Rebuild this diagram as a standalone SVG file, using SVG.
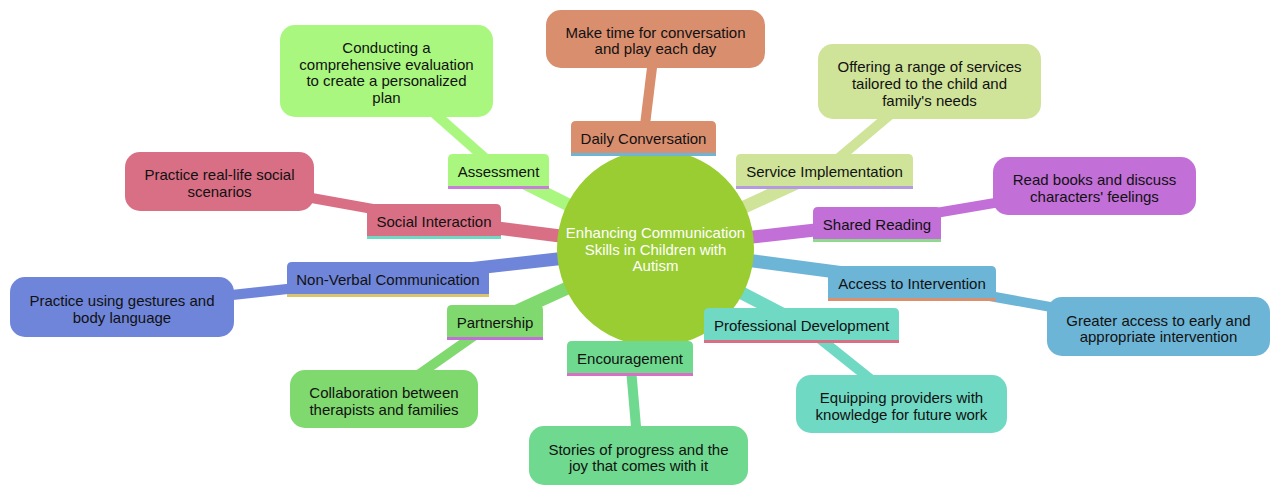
<svg xmlns="http://www.w3.org/2000/svg" width="1280" height="496" viewBox="0 0 1280 496">
<style>
text{font-family:"Liberation Sans",Arial,sans-serif;font-size:15px;fill:#111;text-anchor:middle}
.root text{fill:#fff}
.e1{stroke-width:13;fill:none;stroke-linecap:butt}
.e2{stroke-width:10;fill:none;stroke-linecap:butt}
.ln{stroke-width:3}
</style>
<rect width="1280" height="496" fill="#fff"/>
<g id="connectors">
<line class="e1" x1="655" y1="248" x2="498.5" y2="170" stroke="#a9f77f"/>
<line class="e2" x1="498.5" y1="170" x2="386.5" y2="71" stroke="#a9f77f"/>
<line class="e1" x1="655" y1="248" x2="643.5" y2="137" stroke="#d98e6e"/>
<line class="e2" x1="643.5" y1="137" x2="655.5" y2="39" stroke="#d98e6e"/>
<line class="e1" x1="655" y1="248" x2="824.5" y2="170" stroke="#cfe399"/>
<line class="e2" x1="824.5" y1="170" x2="929.5" y2="81.5" stroke="#cfe399"/>
<line class="e1" x1="655" y1="248" x2="877" y2="223" stroke="#c36fd8"/>
<line class="e2" x1="877" y1="223" x2="1094.5" y2="186" stroke="#c36fd8"/>
<line class="e1" x1="655" y1="248" x2="912" y2="282" stroke="#6db5d7"/>
<line class="e2" x1="912" y1="282" x2="1158.5" y2="326.5" stroke="#6db5d7"/>
<line class="e1" x1="655" y1="248" x2="801.5" y2="324" stroke="#6fd9c4"/>
<line class="e2" x1="801.5" y1="324" x2="901.5" y2="404" stroke="#6fd9c4"/>
<line class="e1" x1="655" y1="248" x2="630" y2="357" stroke="#6fd98f"/>
<line class="e2" x1="630" y1="357" x2="638.5" y2="455.5" stroke="#6fd98f"/>
<line class="e1" x1="655" y1="248" x2="495" y2="321" stroke="#80d96f"/>
<line class="e2" x1="495" y1="321" x2="384" y2="399" stroke="#80d96f"/>
<line class="e1" x1="655" y1="248" x2="388" y2="278" stroke="#6f85d9"/>
<line class="e2" x1="388" y1="278" x2="122" y2="307" stroke="#6f85d9"/>
<line class="e1" x1="655" y1="248" x2="434" y2="220" stroke="#d96f85"/>
<line class="e2" x1="434" y1="220" x2="219.5" y2="181.5" stroke="#d96f85"/>
</g>
<g id="root" class="root">
<circle cx="655.5" cy="248" r="98.5" fill="#9acd32"/>
<text x="655.5" y="238">Enhancing Communication</text>
<text x="655.5" y="255">Skills in Children with</text>
<text x="655.5" y="271">Autism</text>
</g>
<g id="assessment">
<path d="M448,186V159Q448,154 453,154H544Q549,154 549,159V186Z" fill="#a9f77f"/>
<line class="ln" x1="448" y1="187.5" x2="549" y2="187.5" stroke="#c87fd8"/>
<text x="498.5" y="177">Assessment</text>
</g>
<g id="assessment-detail">
<rect x="280" y="25" width="213" height="92" rx="15" fill="#a9f77f"/>
<text x="386.5" y="53">Conducting a</text>
<text x="386.5" y="70">comprehensive evaluation</text>
<text x="386.5" y="86">to create a personalized</text>
<text x="386.5" y="103">plan</text>
</g>
<g id="daily">
<path d="M571,153V126Q571,121 576,121H711Q716,121 716,126V153Z" fill="#d98e6e"/>
<line class="ln" x1="571" y1="154.5" x2="716" y2="154.5" stroke="#6db5d7"/>
<text x="643.5" y="144">Daily Conversation</text>
</g>
<g id="daily-detail">
<rect x="546" y="10" width="219" height="58" rx="15" fill="#d98e6e"/>
<text x="655.5" y="38">Make time for conversation</text>
<text x="655.5" y="54">and play each day</text>
</g>
<g id="service">
<path d="M736,186V159Q736,154 741,154H908Q913,154 913,159V186Z" fill="#cfe399"/>
<line class="ln" x1="736" y1="187.5" x2="913" y2="187.5" stroke="#b49be0"/>
<text x="824.5" y="177">Service Implementation</text>
</g>
<g id="service-detail">
<rect x="818" y="44" width="223" height="75" rx="15" fill="#cfe399"/>
<text x="929.5" y="72">Offering a range of services</text>
<text x="929.5" y="89">tailored to the child and</text>
<text x="929.5" y="106">family's needs</text>
</g>
<g id="shared">
<path d="M813,239V212Q813,207 818,207H936Q941,207 941,212V239Z" fill="#c36fd8"/>
<line class="ln" x1="813" y1="240.5" x2="941" y2="240.5" stroke="#8fd98f"/>
<text x="877" y="230">Shared Reading</text>
</g>
<g id="shared-detail">
<rect x="993" y="157" width="203" height="58" rx="15" fill="#c36fd8"/>
<text x="1094.5" y="185">Read books and discuss</text>
<text x="1094.5" y="202">characters' feelings</text>
</g>
<g id="access">
<path d="M828,298V271Q828,266 833,266H991Q996,266 996,271V298Z" fill="#6db5d7"/>
<line class="ln" x1="828" y1="299.5" x2="996" y2="299.5" stroke="#d9906f"/>
<text x="912" y="289">Access to Intervention</text>
</g>
<g id="access-detail">
<rect x="1047" y="297" width="223" height="59" rx="15" fill="#6db5d7"/>
<text x="1158.5" y="326">Greater access to early and</text>
<text x="1158.5" y="342">appropriate intervention</text>
</g>
<g id="professional">
<path d="M704,340V313Q704,308 709,308H894Q899,308 899,313V340Z" fill="#6fd9c4"/>
<line class="ln" x1="704" y1="341.5" x2="899" y2="341.5" stroke="#d96f85"/>
<text x="801.5" y="331">Professional Development</text>
</g>
<g id="professional-detail">
<rect x="796" y="375" width="211" height="58" rx="15" fill="#6fd9c4"/>
<text x="901.5" y="403">Equipping providers with</text>
<text x="901.5" y="420">knowledge for future work</text>
</g>
<g id="encouragement">
<path d="M567,373V346Q567,341 572,341H688Q693,341 693,346V373Z" fill="#6fd98f"/>
<line class="ln" x1="567" y1="374.5" x2="693" y2="374.5" stroke="#d96fc3"/>
<text x="630" y="364">Encouragement</text>
</g>
<g id="encouragement-detail">
<rect x="529" y="426" width="219" height="59" rx="15" fill="#6fd98f"/>
<text x="638.5" y="455">Stories of progress and the</text>
<text x="638.5" y="471">joy that comes with it</text>
</g>
<g id="partnership">
<path d="M447,337V310Q447,305 452,305H538Q543,305 543,310V337Z" fill="#80d96f"/>
<line class="ln" x1="447" y1="338.5" x2="543" y2="338.5" stroke="#c36fd8"/>
<text x="495" y="328">Partnership</text>
</g>
<g id="partnership-detail">
<rect x="290" y="370" width="188" height="58" rx="15" fill="#80d96f"/>
<text x="384" y="398">Collaboration between</text>
<text x="384" y="415">therapists and families</text>
</g>
<g id="nonverbal">
<path d="M287,294V267Q287,262 292,262H484Q489,262 489,267V294Z" fill="#6f85d9"/>
<line class="ln" x1="287" y1="295.5" x2="489" y2="295.5" stroke="#d9c46f"/>
<text x="388" y="285">Non-Verbal Communication</text>
</g>
<g id="nonverbal-detail">
<rect x="10" y="277" width="224" height="60" rx="15" fill="#6f85d9"/>
<text x="122" y="306">Practice using gestures and</text>
<text x="122" y="323">body language</text>
</g>
<g id="social">
<path d="M367,236V209Q367,204 372,204H496Q501,204 501,209V236Z" fill="#d96f85"/>
<line class="ln" x1="367" y1="237.5" x2="501" y2="237.5" stroke="#6fd9c4"/>
<text x="434" y="227">Social Interaction</text>
</g>
<g id="social-detail">
<rect x="125" y="152" width="189" height="59" rx="15" fill="#d96f85"/>
<text x="219.5" y="180">Practice real-life social</text>
<text x="219.5" y="197">scenarios</text>
</g>
</svg>
